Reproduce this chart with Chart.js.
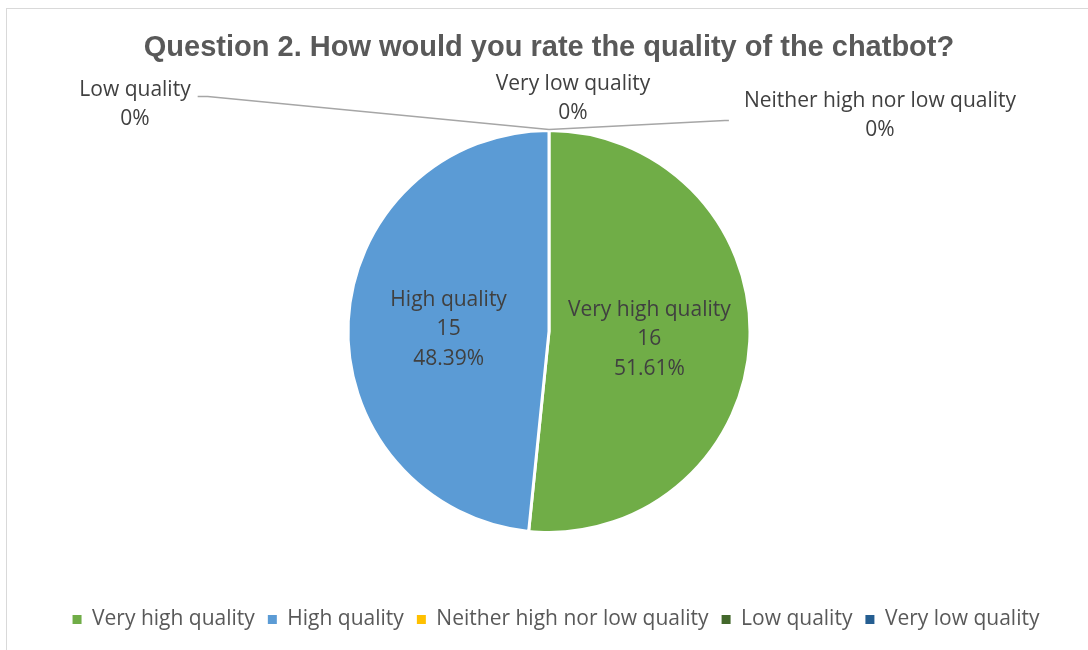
<!DOCTYPE html>
<html>
<head>
<meta charset="utf-8">
<script src="https://cdn.jsdelivr.net/npm/chart.js@4"></script>
<style>
  html, body { margin: 0; padding: 0; background: #fff; }
  #frame {
    position: absolute; left: 6px; top: 8px; width: 1100px; height: 660px;
    border: 1px solid #d9d9d9; box-sizing: border-box;
  }
  #wrap { position: absolute; left: 0; top: 0; width: 1088px; height: 650px; }
</style>
</head>
<body>
<div id="frame"></div>
<div id="wrap"><canvas id="pie" width="1088" height="650"></canvas></div>
<script>
// Dados do gráfico
const categories = ['Very high quality', 'High quality', 'Neither high nor low quality', 'Low quality', 'Very low quality'];
const counts = [16, 15, 0, 0, 0];
const sliceColors = ['#70AD47', '#5B9BD5', '#FFC000', '#43682B', '#255E91'];
const chartTitle = 'Question 2. How would you rate the quality of the chatbot?';

const LABEL_FONT = '21px "Open Sans"';
const LINE_GAP = 29.5;

// posição dos rótulos de fatias vazias, relativa ao ponto de ancoragem na borda
const outsidePlacement = {
  2: { dx: 331, dy: -15, leader: 'left' },
  3: { dx: -414, dy: -26, leader: 'right' },
  4: { dx: 24, dy: -32, leader: null }
};

function formatPct(v, total) {
  if (v === 0) return '0%';
  return (v / total * 100).toFixed(2) + '%';
}

const sliceLabels = {
  id: 'sliceLabels',
  beforeDraw(chart) {
    // legenda levemente deslocada para a direita, como no original
    chart.legend.left += 7;
    chart.legend.right += 7;
  },
  afterDatasetsDraw(chart) {
    const ctx = chart.ctx;
    const meta = chart.getDatasetMeta(0);
    const total = counts.reduce((a, b) => a + b, 0);
    ctx.save();
    ctx.font = LABEL_FONT;
    ctx.fillStyle = '#404040';
    ctx.textAlign = 'center';
    ctx.textBaseline = 'middle';

    meta.data.forEach((arc, i) => {
      const v = counts[i];
      if (v > 0) {
        const mid = (arc.startAngle + arc.endAngle) / 2;
        const r = arc.outerRadius * 0.5;
        const x = arc.x + Math.cos(mid) * r;
        const y = arc.y + Math.sin(mid) * r + 3;
        const lines = [categories[i], String(v), formatPct(v, total)];
        lines.forEach((t, k) => ctx.fillText(t, x, y + (k - 1) * LINE_GAP));
      } else {
        const place = outsidePlacement[i];
        if (!place) return;
        const ax = arc.x + Math.cos(arc.startAngle) * arc.outerRadius;
        const ay = arc.y + Math.sin(arc.startAngle) * arc.outerRadius;
        const cx = ax + place.dx;
        const cy = ay + place.dy;
        const lines = [categories[i], '0%'];
        const w = Math.max(...lines.map(t => ctx.measureText(t).width));
        lines.forEach((t, k) => ctx.fillText(t, cx, cy + (k - 0.5) * LINE_GAP));

        if (place.leader) {
          ctx.strokeStyle = '#a6a6a6';
          ctx.lineWidth = 1.5;
          ctx.beginPath();
          if (place.leader === 'right') {
            const ex = cx + w / 2 + 7;
            const ey = cy - 8;
            ctx.moveTo(ex, ey);
            ctx.lineTo(ex + 10, ey);
          } else {
            const ex = cx - w / 2 - 15;
            const ey = cy + 5;
            ctx.moveTo(ex, ey);
            ctx.lineTo(ex - 4, ey);
          }
          ctx.lineTo(ax, ay - 1);
          ctx.stroke();
        }
      }
    });
    ctx.restore();
  }
};

new Chart(document.getElementById('pie'), {
  type: 'pie',
  data: {
    labels: categories,
    datasets: [{
      data: counts,
      backgroundColor: sliceColors,
      borderColor: '#ffffff',
      borderWidth: 3
    }]
  },
  options: {
    responsive: false,
    animation: false,
    events: [],
    radius: 201,
    layout: { padding: { left: 10, right: 0, top: 0, bottom: 10 } },
    plugins: {
      title: {
        display: true,
        text: chartTitle,
        color: '#595959',
        font: { family: '"Liberation Sans", Arial', size: 29, weight: 'bold' },
        padding: { top: 31, bottom: 1 }
      },
      legend: {
        display: true,
        position: 'bottom',
        labels: {
          color: '#595959',
          font: { family: '"Open Sans"', size: 21 },
          boxWidth: 9,
          boxHeight: 9,
          padding: 13,
          generateLabels(chart) {
            const items = Chart.overrides.pie.plugins.legend.labels.generateLabels(chart);
            items.forEach(it => { it.lineWidth = 0; it.strokeStyle = it.fillStyle; });
            return items;
          }
        }
      },
      tooltip: { enabled: false }
    }
  },
  plugins: [sliceLabels]
});
</script>
</body>
</html>
